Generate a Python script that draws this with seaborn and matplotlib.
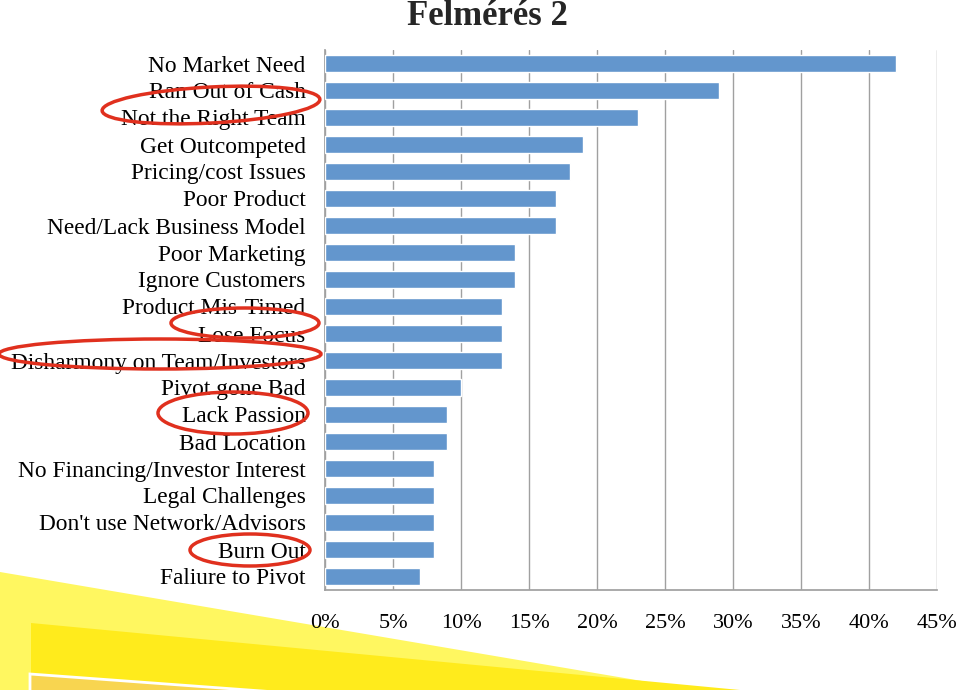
import numpy as np
import pandas as pd
import matplotlib
matplotlib.use("Agg")
import matplotlib.pyplot as plt
from matplotlib.patches import Ellipse, Polygon
from matplotlib.ticker import PercentFormatter
import seaborn as sns

# Data
categories = [
    "No Market Need", "Ran Out of Cash", "Not the Right Team", "Get Outcompeted",
    "Pricing/cost Issues", "Poor Product", "Need/Lack Business Model",
    "Poor Marketing", "Ignore Customers", "Product Mis-Timed", "Lose Focus",
    "Disharmony on Team/Investors", "Pivot gone Bad", "Lack Passion",
    "Bad Location", "No Financing/Investor Interest", "Legal Challenges",
    "Don't use Network/Advisors", "Burn Out", "Faliure to Pivot",
]
percent = [42, 29, 23, 19, 18, 17, 17, 14, 14, 13, 13, 13, 10, 9, 9, 8, 8, 8, 8, 7]
x_ticks = [0, 5, 10, 15, 20, 25, 30, 35, 40, 45]

df = pd.DataFrame({"reason": categories, "pct": percent})

sns.set_theme(style="white")
plt.rcParams['font.family'] = ['Liberation Serif', 'DejaVu Serif']

W, H = 960, 690
fig = plt.figure(figsize=(W / 100, H / 100), dpi=100)

# background decoration (yellow swooshes), in pixel coordinates
bg = fig.add_axes([0, 0, 1, 1], zorder=-5)
bg.set_xlim(0, W)
bg.set_ylim(H, 0)
bg.axis("off")
bg.add_patch(Polygon([(0, 572), (695, 690), (0, 690)], closed=True,
                     facecolor="#fff760", edgecolor="none"))
bg.add_patch(Polygon([(31, 623), (740, 690), (31, 690)], closed=True,
                     facecolor="#ffeb1c", edgecolor="none"))
bg.add_patch(Polygon([(30, 674), (330, 696), (30, 696)], closed=True,
                     facecolor="#f8d550", edgecolor="white", linewidth=2))

ax = fig.add_axes([325 / W, 1 - 590 / H, (937 - 325) / W, (590 - 50) / H])
ax.set_facecolor("none")
sns.barplot(data=df, x="pct", y="reason", color="#6396cd", saturation=1,
            width=0.65, ax=ax, zorder=3)

ax.set_xlim(0, 45)
ax.set_xticks(x_ticks)
ax.xaxis.set_major_formatter(PercentFormatter(decimals=0))
ax.grid(axis="x", color="#a0a0a0", linewidth=1, zorder=0)
ax.set_axisbelow(True)
for side in ["top", "right"]:
    ax.spines[side].set_visible(False)
for side in ["left", "bottom"]:
    ax.spines[side].set_color("#a0a0a0")
ax.set_xlabel("")
ax.set_ylabel("")
ax.tick_params(axis="x", labelsize=16, pad=17, colors="black", length=0)
ax.tick_params(axis="y", labelsize=16.8, pad=14, colors="black", length=0)
fig.text(487 / W, 1 - 25 / H, "Felmérés 2", ha="center", va="baseline",
         fontsize=25, fontweight="bold")

# red hand-drawn ellipses on top
ov = fig.add_axes([0, 0, 1, 1], zorder=10)
ov.set_xlim(0, W)
ov.set_ylim(H, 0)
ov.axis("off")
rings = [((211, 105), 218, 36, -3), ((245, 323), 148, 30, 0),
         ((160, 354), 322, 30, 0), ((233, 413), 150, 42, 0),
         ((250, 550), 120, 32, 0)]
for (cx, cy), w, h, ang in rings:
    ov.add_patch(Ellipse((cx, cy), w, h, angle=ang, fill=False,
                         edgecolor="#e0301e", linewidth=2.5))

fig.savefig("out.png", dpi=100)
